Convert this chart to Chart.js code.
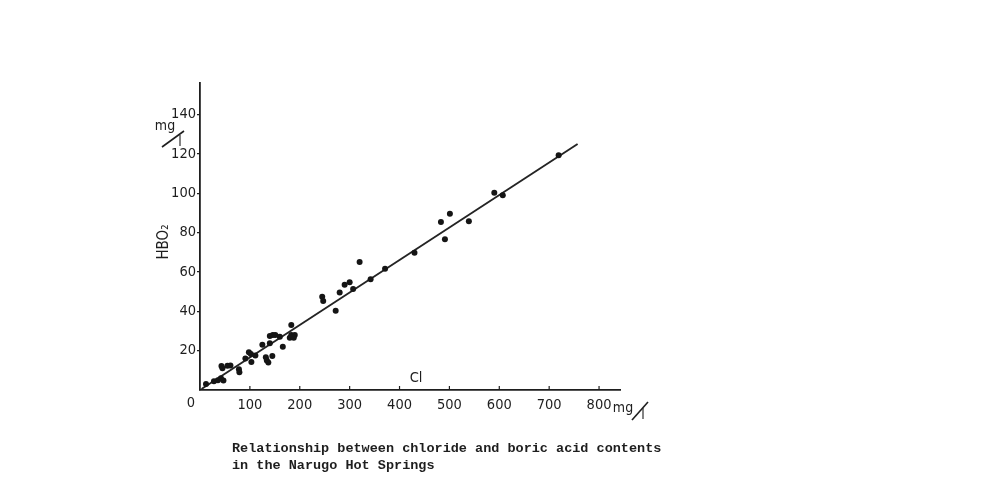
<!DOCTYPE html>
<html>
<head>
<meta charset="utf-8">
<script src="https://cdn.jsdelivr.net/npm/chart.js@4.4.0/dist/chart.umd.min.js"></script>
<style>
  html, body { margin: 0; padding: 0; background: #fff; }
  #wrap { width: 993px; height: 482px; position: relative; }
</style>
</head>
<body>
<div id="wrap"><canvas id="chart" width="993" height="482"></canvas></div>
<script>
// chloride (Cl, mg/l) vs boric acid (HBO2, mg/l), Narugo Hot Springs
const chloride = [12, 28, 36, 42, 47, 43, 45, 55, 61, 78, 79, 91, 98, 102, 103, 111, 125, 132, 134, 137,
  140, 146, 151, 140, 145, 160, 166, 183, 180, 183, 186, 190, 188, 245, 247, 272, 280, 290, 300, 307,
  320, 342, 371, 430, 483, 491, 501, 539, 590, 607, 719];
const boric = [3, 4.5, 5, 6, 4.8, 12.2, 11, 12.3, 12.5, 10.5, 9, 16, 19.2, 18.3, 14.2, 17.5, 23, 16.6, 15, 14,
  27.5, 28, 28, 23.8, 17.3, 27, 22, 33, 26.5, 28, 27, 28, 26.5, 47.4, 45.2, 40.3, 49.5, 53.5, 54.7, 51.3,
  65, 56.3, 61.6, 69.8, 85.4, 76.6, 89.5, 85.8, 100.2, 99, 119.3];

// fitted straight line (end points)
const fitCl = [3, 757];
const fitHbo = [0.5, 125];

const xTicks = [100, 200, 300, 400, 500, 600, 700, 800];
const yTicks = [20, 40, 60, 80, 100, 120, 140];

const INK = '#1e1e1e';
const FACE = "'DejaVu Sans Condensed', 'DejaVu Sans', sans-serif";
const tickFont = { family: FACE, size: 14.5 };

const points = chloride.map((c, i) => ({ x: c, y: boric[i] }));
const fit = fitCl.map((c, i) => ({ x: c, y: fitHbo[i] }));

// extra lettering: axis units, names, caption, upward x ticks
const lettering = {
  id: 'lettering',
  afterDraw(chart) {
    const ctx = chart.ctx;
    const xs = chart.scales.x;
    const bottom = chart.chartArea.bottom;
    ctx.save();
    ctx.strokeStyle = INK;
    ctx.fillStyle = INK;

    // x ticks point up into the plot
    ctx.lineWidth = 1.2;
    xTicks.forEach(v => {
      const px = xs.getPixelForValue(v);
      ctx.beginPath();
      ctx.moveTo(px, bottom);
      ctx.lineTo(px, bottom - 4);
      ctx.stroke();
    });

    ctx.font = "14.5px " + FACE;
    ctx.textAlign = 'center';
    ctx.textBaseline = 'middle';
    ctx.fillText('0', xs.getPixelForValue(0) - 9, 403);
    ctx.fillText('Cl', 416, 378);

    // units on y axis
    ctx.font = "14px " + FACE;
    ctx.fillText('mg', 165, 126);
    ctx.fillText('l', 180, 142);
    ctx.beginPath();
    ctx.moveTo(162, 147);
    ctx.lineTo(184, 131);
    ctx.lineWidth = 1.6;
    ctx.stroke();

    // units on x axis
    ctx.fillText('mg', 623, 408);
    ctx.fillText('l', 643, 415);
    ctx.beginPath();
    ctx.moveTo(632, 420);
    ctx.lineTo(648, 402);
    ctx.stroke();

    // y axis name
    ctx.save();
    ctx.translate(164, 242);
    ctx.rotate(-Math.PI / 2);
    ctx.font = "15px " + FACE;
    ctx.fillText('HBO₂', 0, 0);
    ctx.restore();

    // caption
    ctx.textAlign = 'left';
    ctx.textBaseline = 'alphabetic';
    ctx.font = "bold 13.5px 'Liberation Mono', 'DejaVu Sans Mono', monospace";
    ctx.fillText('Relationship between chloride and boric acid contents', 232, 452);
    ctx.fillText('in the Narugo Hot Springs', 232, 469);
    ctx.restore();
  }
};

new Chart(document.getElementById('chart'), {
  type: 'scatter',
  data: {
    datasets: [
      {
        data: points,
        pointRadius: 3,
        pointHoverRadius: 3,
        pointBackgroundColor: '#151515',
        pointBorderWidth: 0,
        order: 1
      },
      {
        type: 'line',
        data: fit,
        borderColor: '#242424',
        borderWidth: 1.9,
        pointRadius: 0,
        fill: false,
        order: 2
      }
    ]
  },
  options: {
    responsive: false,
    animation: false,
    layout: { padding: { left: 0, top: 83, right: 373, bottom: 52 } },
    plugins: { legend: { display: false }, tooltip: { enabled: false } },
    scales: {
      x: {
        type: 'linear',
        min: 0,
        max: 842,
        afterBuildTicks: s => { s.ticks = xTicks.map(v => ({ value: v })); },
        afterFit: s => { s.height = 40; },
        grid: { display: false, drawTicks: false },
        border: { display: true, color: INK, width: 1.8 },
        ticks: { autoSkip: false, maxRotation: 0, padding: 7, color: INK, font: tickFont }
      },
      y: {
        min: 0,
        max: 156,
        afterBuildTicks: s => { s.ticks = yTicks.map(v => ({ value: v })); },
        afterFit: s => { s.width = 200; },
        grid: { drawOnChartArea: false, drawTicks: true, tickLength: 3, color: INK, lineWidth: 1.3 },
        border: { display: true, color: INK, width: 1.8 },
        ticks: { autoSkip: false, padding: 1, color: INK, font: tickFont }
      }
    }
  },
  plugins: [lettering]
});
</script>
</body>
</html>
